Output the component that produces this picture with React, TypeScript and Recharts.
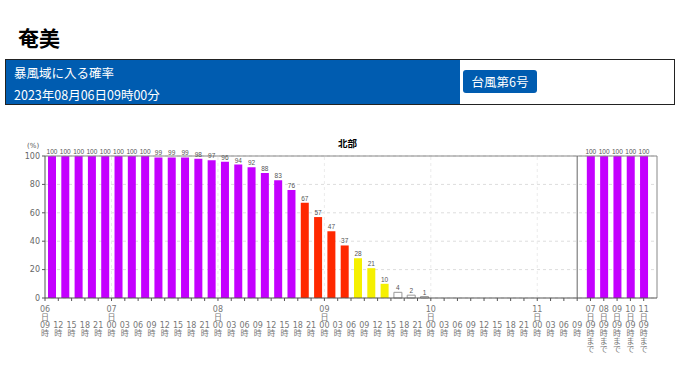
import React from 'react';
import { BarChart, Bar, XAxis, YAxis, CartesianGrid, ReferenceLine, LabelList, Cell } from 'recharts';

// 3時間ごとの時刻ラベル (06日09時 〜 11日09時)
const mainTimes = [
  '06日09時', '12時', '15時', '18時', '21時',
  '07日00時', '03時', '06時', '09時', '12時', '15時', '18時', '21時',
  '08日00時', '03時', '06時', '09時', '12時', '15時', '18時', '21時',
  '09日00時', '03時', '06時', '09時', '12時', '15時', '18時', '21時',
  '10日00時', '03時', '06時', '09時', '12時', '15時', '18時', '21時',
  '11日00時', '03時', '06時', '09時',
];

// 各3時間の確率 (%)
const mainValues = [
  100, 100, 100, 100, 100, 100, 100, 100, 99, 99,
  99, 98, 97, 96, 94, 92, 88, 83, 76, 67,
  57, 47, 37, 28, 21, 10, 4, 2, 1, 0,
  0, 0, 0, 0, 0, 0, 0, 0, 0, 0,
];

// 累積 (〜まで)
const rightLabels = ['07日09時まで', '08日09時まで', '09日09時まで', '10日09時まで', '11日09時まで'];
const rightValues = [100, 100, 100, 100, 100];

const yTicks = [0, 20, 40, 60, 80, 100];

const mainCount = mainValues.length;
const data = [
  ...mainValues.map((v, i) => ({ pos: i + 0.5, value: v })),
  ...rightValues.map((v, i) => ({ pos: mainCount + 1 + i, value: v })),
];
const xTicks = [
  ...mainTimes.map((_, i) => i),
  ...rightLabels.map((_, i) => mainCount + 1 + i),
];
const dayLines = mainTimes
  .map((t, i) => (t.includes('日') && i > 0 ? i : -1))
  .filter((i) => i > 0);

const labelFor = (pos: number) =>
  pos <= mainCount ? mainTimes[pos] : rightLabels[pos - mainCount - 1];

const colorFor = (v: number) => {
  if (v >= 70) return '#c400ff';
  if (v >= 30) return '#ff2800';
  if (v >= 10) return '#f5f000';
  return '#ffffff';
};

function splitLabel(s: string): string[] {
  // "06日09時まで" -> ["06","日","09","時","ま","で"]
  const m = s.match(/^(?:(\d+)日)?(\d+)時(まで)?$/);
  if (!m) return [s];
  const lines: string[] = [];
  if (m[1]) lines.push(m[1], '日');
  else lines.push('', '');
  lines.push(m[2], '時');
  if (m[3]) lines.push('ま', 'で');
  return lines;
}

function XTick(props: any) {
  const { x, y, payload } = props;
  const lines = splitLabel(labelFor(payload.value));
  return (
    <g>
      {lines.map((l, k) =>
        l ? (
          <text key={k} x={x} y={y + 9 + k * 8} textAnchor="middle" fontSize={8} fill="#777">
            {l}
          </text>
        ) : null
      )}
    </g>
  );
}

export default function App() {
  return (
    <div style={{ position: 'absolute', left: 0, top: 0, width: 680, height: 382, background: '#fff', fontFamily: "'Noto Sans CJK JP', sans-serif" }}>
      <div style={{ position: 'absolute', left: 18, top: 25, fontSize: 21, fontWeight: 'bold', lineHeight: '24px' }}>奄美</div>

      {/* ヘッダー */}
      <div style={{ position: 'absolute', left: 5, top: 59, width: 668, height: 44, border: '1.5px solid #222', background: '#fff' }}>
        <div style={{ position: 'absolute', left: 0, top: 0, width: 454, height: 44, background: '#005cb0', color: '#fff', fontSize: 12.5 }}>
          <div style={{ position: 'absolute', left: 8, top: 4, lineHeight: '18px' }}>暴風域に入る確率</div>
          <div style={{ position: 'absolute', left: 8, top: 26, lineHeight: '18px' }}>2023年08月06日09時00分</div>
        </div>
        <div style={{ position: 'absolute', left: 457, top: 10, width: 74, height: 23, background: '#005cb0', color: '#fff', borderRadius: 3, fontSize: 12.5, lineHeight: '23px', textAlign: 'center' }}>
          台風第6号
        </div>
      </div>

      <div style={{ position: 'absolute', left: 0, top: 120 }}>
        <BarChart width={680} height={262} data={data} margin={{ top: 36, right: 23, bottom: 4, left: 15 }} style={{ fontFamily: "'DejaVu Sans', 'Noto Sans CJK JP', sans-serif" }}>
          <CartesianGrid vertical={false} stroke="#ddd" strokeDasharray="3 3" />
          {dayLines.map((d) => (
            <ReferenceLine key={d} x={d} stroke="#ebebeb" strokeDasharray="3 3" />
          ))}
          <ReferenceLine y={100} stroke="#888" />
          <ReferenceLine x={mainCount} stroke="#666" />
          <ReferenceLine x={mainCount + rightValues.length + 1} stroke="#888" />
          <XAxis
            dataKey="pos"
            type="number"
            domain={[0, mainCount + rightValues.length + 1]}
            ticks={xTicks}
            interval={0}
            height={80}
            tick={<XTick />}
            tickSize={3}
            tickLine={{ stroke: '#555' }}
            axisLine={{ stroke: '#555' }}
            allowDataOverflow
          />
          <YAxis
            domain={[0, 100]}
            ticks={yTicks}
            width={30}
            tickSize={3}
            tick={{ fontSize: 8, fill: '#666' }}
            tickLine={{ stroke: '#555' }}
            axisLine={{ stroke: '#555' }}
          />
          <Bar dataKey="value" barSize={8} isAnimationActive={false}>
            {data.map((d, i) => (
              <Cell key={i} fill={colorFor(d.value)} stroke={d.value > 0 && d.value < 10 ? '#999' : 'none'} />
            ))}
            <LabelList
              dataKey="value"
              position="top"
              offset={2}
              fontSize={6.5}
              fontFamily="'Liberation Sans', sans-serif"
              fill="#555"
              formatter={(v: any) => (v === 0 ? '' : v)}
            />
          </Bar>
        </BarChart>
      </div>

      <div style={{ position: 'absolute', left: 27, top: 142, fontSize: 7, color: '#555', fontFamily: "'DejaVu Sans', sans-serif" }}>(%)</div>
      <div style={{ position: 'absolute', left: 338, top: 137, fontSize: 9.5, fontWeight: 'bold', lineHeight: '12px' }}>北部</div>
    </div>
  );
}
